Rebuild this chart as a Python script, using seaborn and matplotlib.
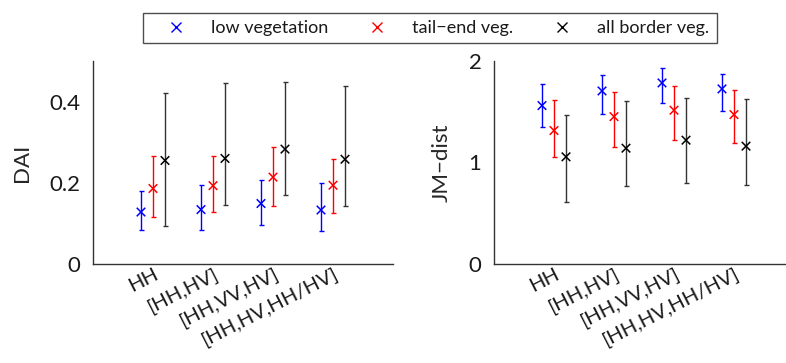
import matplotlib
matplotlib.use("Agg")
import matplotlib.pyplot as plt
from matplotlib.lines import Line2D
import seaborn as sns
import numpy as np
import pandas as pd

# feature combinations on the x axis
combos = ["HH", "[HH,HV]", "[HH,VV,HV]", "[HH,HV,HH/HV]"]
classes = ["low vegetation", "tail\u2212end veg.", "all border veg."]
colors = ["#0000ff", "#ff0000", "#000000"]

# DAI: mean, lower and upper bound per class
dai_low_mean = [0.128, 0.134, 0.149, 0.133]
dai_low_lo = [0.084, 0.084, 0.095, 0.082]
dai_low_hi = [0.180, 0.195, 0.207, 0.199]
dai_tail_mean = [0.186, 0.193, 0.214, 0.194]
dai_tail_lo = [0.116, 0.127, 0.144, 0.126]
dai_tail_hi = [0.265, 0.265, 0.287, 0.259]
dai_border_mean = [0.255, 0.260, 0.283, 0.258]
dai_border_lo = [0.094, 0.146, 0.169, 0.144]
dai_border_hi = [0.420, 0.447, 0.448, 0.439]

# JM distance: mean, lower and upper bound per class
jm_low_mean = [1.561, 1.705, 1.784, 1.725]
jm_low_lo = [1.351, 1.482, 1.587, 1.505]
jm_low_hi = [1.774, 1.862, 1.928, 1.872]
jm_tail_mean = [1.315, 1.452, 1.515, 1.472]
jm_tail_lo = [1.059, 1.157, 1.220, 1.190]
jm_tail_hi = [1.613, 1.698, 1.751, 1.711]
jm_border_mean = [1.056, 1.141, 1.220, 1.161]
jm_border_lo = [0.610, 0.767, 0.800, 0.780]
jm_border_hi = [1.466, 1.603, 1.636, 1.630]


def build_frame(means, los, his):
    rows = []
    offsets = [-0.2, 0.0, 0.2]
    for cls, off, m, lo, hi in zip(classes, offsets, means, los, his):
        for i, combo in enumerate(combos):
            rows.append({"combo": combo, "pos": i + 1 + off, "class": cls,
                         "mean": m[i], "lo": lo[i], "hi": hi[i]})
    return pd.DataFrame(rows)


dai = build_frame([dai_low_mean, dai_tail_mean, dai_border_mean],
                  [dai_low_lo, dai_tail_lo, dai_border_lo],
                  [dai_low_hi, dai_tail_hi, dai_border_hi])
jm = build_frame([jm_low_mean, jm_tail_mean, jm_border_mean],
                 [jm_low_lo, jm_tail_lo, jm_border_lo],
                 [jm_low_hi, jm_tail_hi, jm_border_hi])

sns.set_style("white")
plt.rcParams["font.family"] = ["Lato", "DejaVu Sans"]

fig = plt.figure(figsize=(7.86, 3.63), dpi=100)
ax1 = fig.add_axes([93 / 786, 99 / 363, 300 / 786, 203 / 363])
ax2 = fig.add_axes([494 / 786, 99 / 363, 300 / 786, 203 / 363])

palette = dict(zip(classes, colors))


def draw_panel(ax, df, ylim, yticks, yticklabels, ylabel, label_x):
    for cls, grp in df.groupby("class", sort=False):
        err_color = "#333333" if palette[cls] == "#000000" else palette[cls]
        ax.errorbar(grp["pos"], grp["mean"],
                    yerr=[grp["mean"] - grp["lo"], grp["hi"] - grp["mean"]],
                    fmt="none", ecolor=err_color, elinewidth=1.0,
                    capsize=1.8, capthick=1.0, zorder=2)
    sns.scatterplot(data=df, x="pos", y="mean", hue="class", palette=palette,
                    marker="x", s=38, linewidth=1.1, legend=False, ax=ax, zorder=3)
    ax.set_xlim(0, 5)
    ax.set_ylim(*ylim)
    ax.set_yticks(yticks)
    ax.set_yticklabels(yticklabels, fontsize=16)
    ax.set_xticks(range(1, 5))
    ax.set_xticklabels(combos, rotation=27, ha="right", va="top",
                       rotation_mode="anchor", fontsize=14.5)
    ax.set_xlabel("")
    ax.set_ylabel(ylabel, fontsize=16)
    ax.yaxis.set_label_coords(label_x, 0.5)
    ax.tick_params(direction="in", length=3, width=0.8, color="#333333",
                   labelcolor="#1a1a1a")
    ax.tick_params(axis="x", pad=1)
    ax.tick_params(axis="y", pad=9)
    for side in ["top", "right"]:
        ax.spines[side].set_visible(False)
    for side in ["left", "bottom"]:
        ax.spines[side].set_color("#333333")
        ax.spines[side].set_linewidth(1.0)


draw_panel(ax1, dai, (0, 0.5), [0, 0.2, 0.4], ["0", "0.2", "0.4"], "DAI", -61 / 300)
draw_panel(ax2, jm, (0, 2), [0, 1, 2], ["0", "1", "2"], "JM\u2212dist", -42 / 300)

handles = [Line2D([], [], linestyle="none", marker="x", color=c,
                  markersize=6.5, markeredgewidth=1.0) for c in colors]
leg = fig.legend(handles, classes, loc="center", ncol=3,
                 bbox_to_anchor=(430 / 786, 1 - 28 / 363), frameon=True,
                 fancybox=False, fontsize=13, handlelength=2.8,
                 handletextpad=0.55, columnspacing=1.3, borderpad=0.4)
leg.get_frame().set_edgecolor("#222222")
leg.get_frame().set_linewidth(1.0)
for t in leg.get_texts():
    t.set_color("#1a1a1a")

fig.savefig("out.png", dpi=100)
